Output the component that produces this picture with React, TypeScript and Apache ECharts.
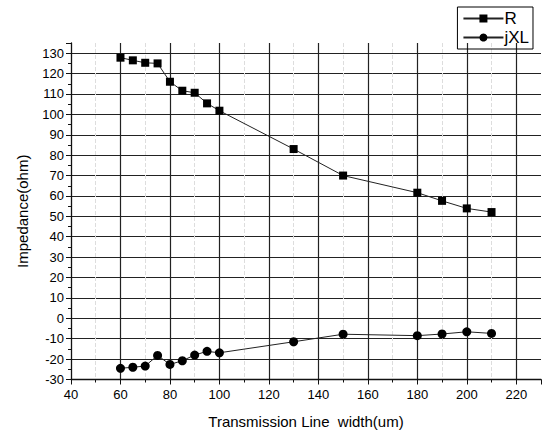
import React, { useEffect, useRef } from "react";
import * as echarts from "echarts";

const widths = [60, 65, 70, 75, 80, 85, 90, 95, 100, 130, 150, 180, 190, 200, 210];
const rValues = [127.8, 126.5, 125.3, 125, 116, 111.6, 110.6, 105.4, 101.8, 83, 70, 61.6, 57.6, 53.9, 52.1];
const jxlValues = [-24.5, -24, -23.4, -18.2, -22.6, -20.8, -18, -16.2, -16.9, -11.5, -7.8, -8.5, -7.7, -6.6, -7.4];
const seriesNames = ["R", "jXL"];
const xTitle = "Transmission Line  width(um)";
const yTitle = "Impedance(ohm)";

const FONT = "Liberation Sans, Arial, sans-serif";

export default function App() {
  const ref = useRef<HTMLDivElement>(null);
  useEffect(() => {
    if (!ref.current) return;
    const chart = echarts.init(ref.current, undefined, { renderer: "svg" });
    const rData = widths.map((w, i) => [w, rValues[i]]);
    const jData = widths.map((w, i) => [w, jxlValues[i]]);
    chart.setOption({
      animation: false,
      backgroundColor: "#fff",
      textStyle: { fontFamily: FONT, color: "#000" },
      grid: { left: 71, right: 1, top: 43, bottom: 56.5, containLabel: false },
      legend: {
        orient: "vertical",
        right: 9,
        top: 7,
        borderColor: "#000",
        borderWidth: 1,
        padding: [3, 4, 3, 5],
        itemGap: 2,
        itemWidth: 40,
        itemHeight: 10,
        textStyle: { fontFamily: FONT, fontSize: 17, color: "#000", padding: [0, 0, 0, -4] },
        data: seriesNames,
      },
      xAxis: {
        type: "value",
        min: 40,
        max: 230,
        interval: 20,
        name: xTitle,
        nameLocation: "middle",
        nameGap: 34,
        nameTextStyle: { fontFamily: FONT, fontSize: 15, color: "#000" },
        axisLine: { show: true, onZero: false, lineStyle: { color: "#111", width: 1.3 } },
        axisTick: { show: true, length: 5, lineStyle: { color: "#111" } },
        minorTick: { show: true, splitNumber: 2, length: 3, lineStyle: { color: "#111" } },
        axisLabel: { fontFamily: FONT, fontSize: 13, color: "#000", margin: 8, showMaxLabel: false },
        splitLine: { show: true, showMinLine: false, showMaxLine: false, lineStyle: { color: "#222", width: 1.2 } },
        minorSplitLine: { show: true, lineStyle: { color: "#ddd", type: "dashed", width: 1 } },
      },
      yAxis: {
        type: "value",
        min: -30,
        max: 135,
        interval: 10,
        name: yTitle,
        nameLocation: "middle",
        nameGap: 41,
        nameTextStyle: { fontFamily: FONT, fontSize: 15, color: "#000" },
        axisLine: { show: true, onZero: false, lineStyle: { color: "#111", width: 1.3 } },
        axisTick: { show: true, length: 5, lineStyle: { color: "#111" } },
        minorTick: { show: true, splitNumber: 2, length: 3, lineStyle: { color: "#111" } },
        axisLabel: { fontFamily: FONT, fontSize: 13, color: "#000", margin: 7, showMaxLabel: false },
        splitLine: { show: true, showMinLine: false, showMaxLine: false, lineStyle: { color: "#222", width: 1.2 } },
      },
      series: [
        {
          name: seriesNames[0],
          type: "line",
          data: rData,
          symbol: "rect",
          symbolSize: 8,
          itemStyle: { color: "#000" },
          lineStyle: { color: "#222", width: 1 },
        },
        {
          name: seriesNames[1],
          type: "line",
          data: jData,
          symbol: "circle",
          symbolSize: 9,
          itemStyle: { color: "#000" },
          lineStyle: { color: "#222", width: 1 },
        },
      ],
    });
    return () => chart.dispose();
  }, []);
  return (
    <div
      ref={ref}
      style={{ position: "fixed", left: 0, top: 0, width: 542, height: 436, background: "#fff" }}
    />
  );
}
